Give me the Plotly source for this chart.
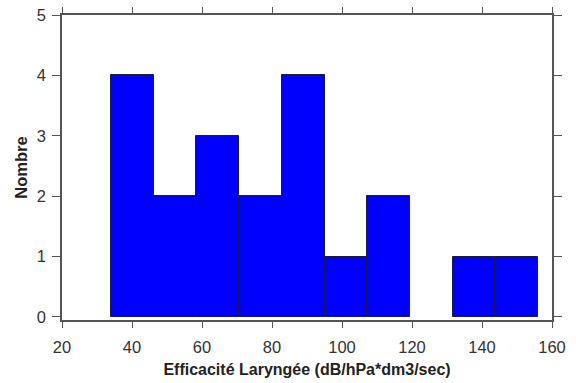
import plotly.graph_objects as go

# Histogram data
bin_left = [34.0, 46.2, 58.4, 70.6, 82.8, 95.0, 107.2, 119.4, 131.6, 143.8]
bin_width = 12.2
counts = [4, 2, 3, 2, 4, 1, 2, 0, 1, 1]

x_ticks = [20, 40, 60, 80, 100, 120, 140, 160]
y_ticks = [0, 1, 2, 3, 4, 5]

centers = [b + bin_width / 2 for b in bin_left]
line_widths = [1 if c > 0 else 0 for c in counts]

fig = go.Figure(go.Bar(
    x=centers, y=counts, width=[bin_width] * len(centers),
    marker=dict(color="#0000FF", line=dict(color="#1a1a4a", width=line_widths)),
    hoverinfo="x+y",
))

axis_col = "#555555"
fig.update_layout(
    width=576, height=383,
    margin=dict(l=62, r=24, t=15, b=63, autoexpand=False),
    paper_bgcolor="white", plot_bgcolor="white",
    font=dict(family="Liberation Sans, Arial, sans-serif", color="#333333", size=16),
    showlegend=False,
    bargap=0,
)
fig.update_xaxes(
    range=[20, 160], tickvals=x_ticks, ticks="outside", ticklen=6, tickcolor=axis_col,
    showline=True, linecolor=axis_col, linewidth=1.5, mirror="ticks",
    showgrid=False, zeroline=False, automargin=False, ticklabelstandoff=5,
    ticklabeloverflow="allow",
    tickfont=dict(size=16.5),
    title=dict(text="<b>Efficacité Laryngée (dB/hPa*dm3/sec)</b>", font=dict(size=16, color="#222222"), standoff=9),
)
fig.update_yaxes(
    range=[-0.05, 5], tickvals=y_ticks, ticks="outside", ticklen=8, tickcolor=axis_col,
    showline=True, linecolor=axis_col, linewidth=1.5, mirror="ticks",
    showgrid=False, zeroline=False, automargin=False, ticklabelstandoff=3,
    ticklabeloverflow="allow",
    tickfont=dict(size=16.5),
    title=dict(text="<b>Nombre</b>", font=dict(size=16.5, color="#222222"), standoff=5),
)

fig.write_html("out.html", config={"displayModeBar": False},
               post_script="document.body.style.margin='0';")
